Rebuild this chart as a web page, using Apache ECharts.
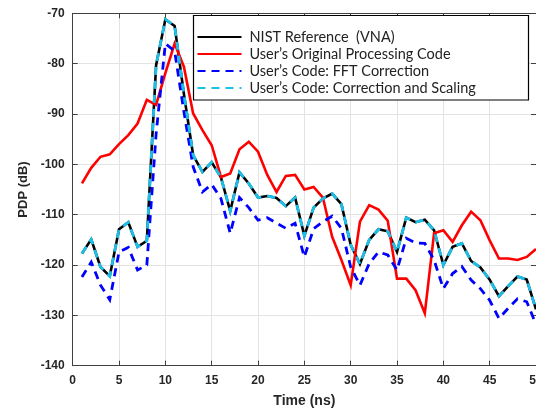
<!DOCTYPE html>
<html>
<head>
<meta charset="utf-8">
<script src="https://cdn.jsdelivr.net/npm/echarts@6/dist/echarts.min.js"></script>
<style>
  html, body { margin: 0; padding: 0; background: #fff; }
  #chart { width: 536px; height: 409px; }
</style>
</head>
<body>
<div id="chart"></div>
<script>
// Time samples (ns)
const timeNs = [1,2,3,4,5,6,7,8,9,10,11,12,13,14,15,16,17,18,19,20,21,22,23,24,25,26,27,28,29,30,31,32,33,34,35,36,37,38,39,40,41,42,43,44,45,46,47,48,49,50];

// Power delay profile (dB) for each processing variant
const nistReference = [-117.7,-114.9,-120.4,-122.2,-112.9,-111.5,-116.4,-115.2,-80.3,-71.2,-72.5,-86,-98.2,-101.5,-99.6,-102.6,-109.3,-101.6,-103.8,-106.6,-106.3,-106.7,-108.3,-106.6,-114.2,-108.6,-106.8,-105.8,-107.9,-116,-119.8,-115,-112.9,-113.3,-117.4,-110.6,-111.5,-111,-113.1,-120,-116.4,-115.7,-119.2,-120.5,-122.9,-126.2,-124.2,-122.3,-122.9,-128.8];
const originalCode = [-103.8,-100.7,-98.5,-98,-96,-94.2,-91.9,-87.2,-88.2,-81.9,-76,-80.6,-89.9,-93.2,-96.2,-102.5,-101.8,-97,-95.5,-97.5,-102.1,-105.5,-102.3,-102.1,-105,-104.5,-106.6,-114.4,-119,-124,-111.4,-108.1,-109,-111.2,-122.7,-122.7,-125,-129.6,-113.7,-113.1,-115.4,-112.1,-109.4,-111.1,-115.1,-118.7,-118.7,-119,-118.4,-116.8];
const fftCorrection = [-122.4,-119.4,-124,-126.9,-117.4,-116.5,-121,-120,-94,-76,-77.5,-89.5,-100.5,-105.5,-104,-106.8,-113.7,-106.6,-108.6,-111.1,-110.6,-111.7,-112.7,-111.7,-118.4,-112.8,-111.4,-110.3,-112.7,-120.4,-124,-119.7,-117.4,-118,-121,-114.7,-115.6,-115.7,-119,-124.7,-121.7,-120.3,-123,-124.7,-127,-130.6,-128.6,-126.7,-127.3,-131.8];
const correctionScaling = [-117.7,-114.9,-120.4,-122.2,-112.9,-111.5,-116.4,-115.2,-80.3,-71.2,-72.5,-86,-98.2,-101.5,-99.6,-102.6,-109.3,-101.6,-103.8,-106.6,-106.3,-106.7,-108.3,-106.6,-114.2,-108.6,-106.8,-105.8,-107.9,-116,-119.8,-115,-112.9,-113.3,-117.4,-110.6,-111.5,-111,-113.1,-120,-116.4,-115.7,-119.2,-120.5,-122.9,-126.2,-124.2,-122.3,-122.9,-128.8];

const seriesNames = [
  'NIST Reference  (VNA)',
  'User\u2019s Original Processing Code',
  'User\u2019s Code: FFT Correction',
  'User\u2019s Code: Correction and Scaling'
];

const pairs = (ys) => timeNs.map((t, i) => [t, ys[i]]);

const chart = echarts.init(document.getElementById('chart'), null, { renderer: 'canvas' });

const axisColor = '#262626';
const gridColor = '#e3e3e3';
const labelFont = { color: axisColor, fontFamily: 'Liberation Sans, Arial, sans-serif', fontWeight: 'bold', fontSize: 12 };

function lineSeries(name, ys, color, width, dashed, z) {
  return {
    name: name,
    type: 'line',
    data: pairs(ys),
    symbol: 'none',
    smooth: false,
    z: z,
    lineStyle: { color: color, width: width, type: dashed ? [8, 6] : 'solid', cap: 'butt', join: 'miter' },
    itemStyle: { color: color },
    emphasis: { disabled: true },
    animation: false
  };
}

chart.setOption({
  animation: false,
  backgroundColor: '#ffffff',
  grid: { left: 72.7, right: 0, top: 13.3, bottom: 43.3, containLabel: false, outerBoundsMode: 'none' },
  xAxis: [{
    type: 'value', min: 0, max: 50, interval: 5,
    name: 'Time (ns)', nameLocation: 'middle', nameGap: 28,
    nameTextStyle: { color: axisColor, fontFamily: 'Liberation Sans, Arial, sans-serif', fontWeight: 'bold', fontSize: 14 },
    axisLine: { show: true, onZero: false, lineStyle: { color: '#404040', width: 1 } },
    axisTick: { show: true, inside: true, length: 5, lineStyle: { color: '#404040' } },
    axisLabel: Object.assign({ margin: 9 }, labelFont),
    splitLine: { show: true, lineStyle: { color: gridColor, width: 1 } }
  }, {
    type: 'value', min: 0, max: 50, interval: 5, position: 'top',
    axisLine: { show: true, onZero: false, lineStyle: { color: '#404040', width: 1 } },
    axisTick: { show: true, inside: true, length: 5, lineStyle: { color: '#404040' } },
    axisLabel: { show: false }, splitLine: { show: false }
  }],
  yAxis: [{
    type: 'value', min: -140, max: -70, interval: 10,
    name: 'PDP (dB)', nameLocation: 'middle', nameGap: 41,
    nameTextStyle: { color: axisColor, fontFamily: 'Liberation Sans, Arial, sans-serif', fontWeight: 'bold', fontSize: 13 },
    axisLine: { show: true, onZero: false, lineStyle: { color: '#404040', width: 1 } },
    axisTick: { show: true, inside: true, length: 5, lineStyle: { color: '#404040' } },
    axisLabel: Object.assign({ margin: 8 }, labelFont),
    splitLine: { show: true, lineStyle: { color: gridColor, width: 1 } }
  }, {
    type: 'value', min: -140, max: -70, interval: 10, position: 'right',
    axisLine: { show: true, onZero: false, lineStyle: { color: '#404040', width: 1 } },
    axisTick: { show: true, inside: true, length: 5, lineStyle: { color: '#404040' } },
    axisLabel: { show: false }, splitLine: { show: false }
  }],
  legend: {
    orient: 'vertical', left: 196.5, top: 29.5, z: 20,
    itemWidth: 44, itemHeight: 14, itemGap: 2,
    padding: 0,
    itemStyle: { opacity: 0 },
    textStyle: { color: '#222', fontFamily: 'Lato, sans-serif', fontSize: 14.5, padding: [0, 0, 0, 3] },
    data: seriesNames.map(n => ({ name: n })),
    selectedMode: false
  },
  graphic: [{
    type: 'rect', z: 10,
    shape: { x: 193.5, y: 15.5, width: 335, height: 84.5 },
    style: { fill: '#ffffff', stroke: '#000000', lineWidth: 1.2 }
  }],
  series: [
    lineSeries(seriesNames[0], nistReference, '#000000', 2.6, false, 2),
    lineSeries(seriesNames[1], originalCode, '#ff0000', 2.6, false, 3),
    lineSeries(seriesNames[2], fftCorrection, '#0000ff', 2.8, true, 4),
    lineSeries(seriesNames[3], correctionScaling, '#1cbfe8', 2.8, true, 5)
  ]
});
</script>
</body>
</html>
